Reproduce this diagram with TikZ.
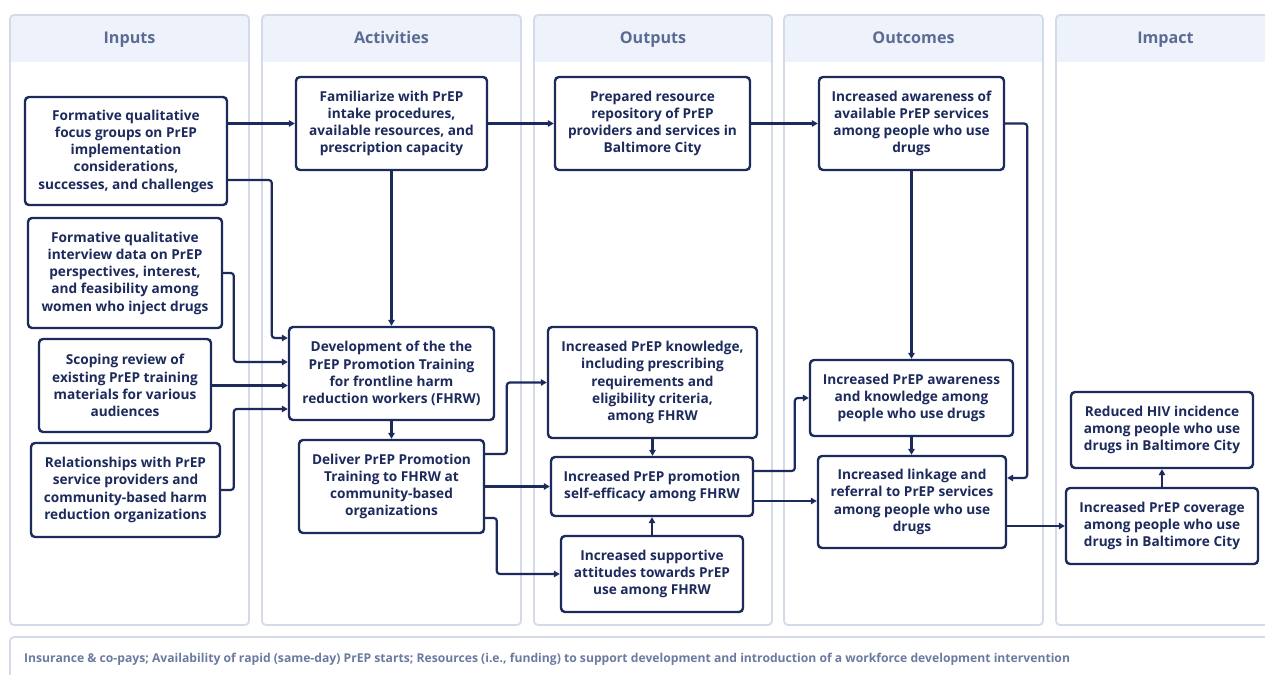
\documentclass[tikz,border=0pt]{standalone}
\usepackage{fontspec}
\setmainfont{Open Sans}
\usetikzlibrary{arrows.meta}
\definecolor{navy}{HTML}{1C2A5C}
\definecolor{laneline}{HTML}{D4DAEA}
\definecolor{hdrfill}{HTML}{EEF2FA}
\definecolor{hdrtext}{HTML}{5B6B93}
\definecolor{foottext}{HTML}{6B7BA0}
\tikzset{
  lanebox/.style={draw=laneline, line width=1.8bp, rounded corners=4bp},
  box/.style={draw=navy, line width=2.4bp, rounded corners=4bp, text=navy,
    font=\bfseries\fontsize{13.7}{17.3}\selectfont, align=center, inner sep=0pt, fill=white},
  conn/.style={draw=navy, line width=2.2bp, -{Triangle[length=6bp,width=6.5bp]}, rounded corners=3bp},
  hdr/.style={text=hdrtext, font=\bfseries\fontsize{16.2}{18}\selectfont, anchor=base, inner sep=0pt},
}
\newcommand\bx[6]{\node[box,minimum width={#4bp-#2bp},minimum height={#5bp-#3bp}] (#1) at ({(#2+#4)/2},{(#3+#5)/2}) {#6};}
\newcommand\lane[5]{%
  \begin{scope}
    \clip[rounded corners=4bp] (#1,15) rectangle (#2,625);
    \fill[hdrfill] (#1,15) rectangle (#2,62);
  \end{scope}
  \draw[lanebox] (#1,15) rectangle (#2,625);
  \node[hdr] (#3) at ({(#1+#4)/2},44) {#5};}
\begin{document}
\begin{tikzpicture}[x=1bp,y=-1bp]
\useasboundingbox (0,0) rectangle (1265,675);
\fill[white] (0,0) rectangle (1265,675);
\clip (0,0) rectangle (1265,675);
% lanes
\lane{10}{249}{hIn}{249}{Inputs}
\lane{262}{521}{hAct}{521}{Activities}
\lane{534}{772}{hOut}{772}{Outputs}
\lane{784}{1043}{hOc}{1043}{Outcomes}
\lane{1056}{1290}{hIm}{1275}{Impact}
% bottom bar
\draw[lanebox] (10,637) rectangle (1290,700);
\node[anchor=west, text=foottext, font=\bfseries\fontsize{12.2}{14}\selectfont, inner sep=0pt] (foot) at (24,659)
  {Insurance \& co-pays; Availability of rapid (same-day) PrEP starts; Resources (i.e., funding) to support development and introduction of a workforce development intervention};
% inputs
\bx{in1}{25}{97}{227}{205}{Formative qualitative\\focus groups on PrEP\\implementation\\considerations,\\successes, and challenges}
\bx{in2}{28}{218}{222}{328}{Formative qualitative\\interview data on PrEP\\perspectives, interest,\\and feasibility among\\women who inject drugs}
\bx{in3}{39}{339}{211}{432}{Scoping review of\\existing PrEP training\\materials for various\\audiences}
\bx{in4}{31}{443}{220}{537}{Relationships with PrEP\\service providers and\\community-based harm\\reduction organizations}
% activities
\bx{act1}{296}{77}{487}{170}{Familiarize with PrEP\\intake procedures,\\available resources, and\\prescription capacity}
\bx{act2}{289}{327}{494}{420}{Development of the the\\PrEP Promotion Training\\for frontline harm\\reduction workers (FHRW)}
\bx{act3}{299}{440}{484}{533}{Deliver PrEP Promotion\\Training to FHRW at\\community-based\\organizations}
% outputs
\bx{out1}{555}{77}{750}{170}{Prepared resource\\repository of PrEP\\providers and services in\\Baltimore City}
\bx{out2}{548}{327}{757}{438}{Increased PrEP knowledge,\\including prescribing\\requirements and\\eligibility criteria,\\among FHRW}
\bx{out3}{551}{457}{753}{516}{Increased PrEP promotion\\self-efficacy among FHRW}
\bx{out4}{561}{536}{743}{612}{Increased supportive\\attitudes towards PrEP\\use among FHRW}
% outcomes
\bx{oc1}{819}{77}{1004}{170}{Increased awareness of\\available PrEP services\\among people who use\\drugs}
\bx{oc2}{810}{360}{1013}{436}{Increased PrEP awareness\\and knowledge among\\people who use drugs}
\bx{oc3}{818}{456}{1006}{548}{Increased linkage and\\referral to PrEP services\\among people who use\\drugs}
% impact
\bx{im1}{1071}{392}{1253}{468}{Reduced HIV incidence\\among people who use\\drugs in Baltimore City}
\bx{im2}{1066}{488}{1258}{564}{Increased PrEP coverage\\among people who use\\drugs in Baltimore City}
% connectors
\draw[conn] (in1.east |- act1.west) -- (act1.west);
\draw[conn] (act1.east) -- (out1.west);
\draw[conn] (out1.east) -- (oc1.west);
\draw[conn] ([yshift=-29bp]in1.east) -| ([xshift=-16bp,yshift=35.5bp]act2.west) -- ([yshift=35.5bp]act2.west);
\draw[conn] (in2.east) -| ([xshift=-54bp,yshift=11.5bp]act2.west) -- ([yshift=11.5bp]act2.west);
\draw[conn] (in3.east) -- (in3.east -| act2.west);
\draw[conn] (in4.east) -| ([xshift=-54bp,yshift=-35.5bp]act2.west) -- ([yshift=-35.5bp]act2.west);
\draw[conn] (act1.south) -- (act2.north);
\draw[conn] (act2.south) -- (act3.north);
\draw[conn] ([yshift=32.5bp]act3.east) -| ([xshift=-40bp]out2.west) -- (out2.west);
\draw[conn] (act3.east) -- (out3.west);
\draw[conn] ([yshift=-31.5bp]act3.east) -| ([xshift=-63bp]out4.west) -- (out4.west);
\draw[conn] (out2.south) -- (out2.south |- out3.north);
\draw[conn] (out4.north) -- (out4.north |- out3.south);
\draw[conn] ([yshift=15.5bp]out3.east) -| ([xshift=-14bp]oc2.west) -- (oc2.west);
\draw[conn] ([yshift=-14.5bp]out3.east) -- ([yshift=-14.5bp]out3.east -| oc3.west);
\draw[conn] (oc1.south) -- (oc1.south |- oc2.north);
\draw[conn] (oc2.south) -- (oc2.south |- oc3.north);
\draw[conn] (oc1.east) -| ([xshift=20bp,yshift=24bp]oc3.east) -- ([yshift=24bp]oc3.east);
\draw[conn] ([yshift=-24bp]oc3.east) -- ([yshift=-24bp]oc3.east -| im2.west);
\draw[conn] (im2.north) -- (im2.north |- im1.south);
\end{tikzpicture}
\end{document}
